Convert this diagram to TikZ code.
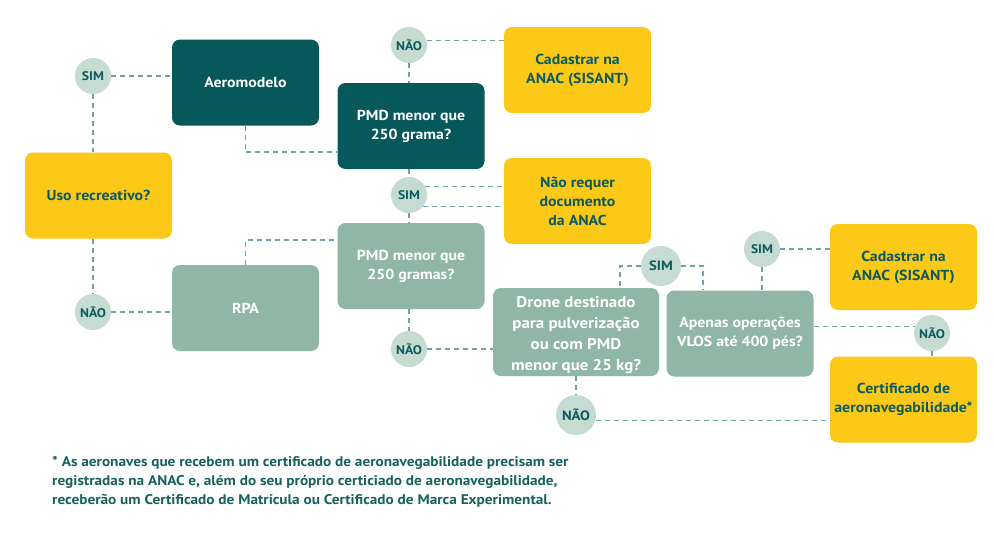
\documentclass[tikz,border=0pt]{standalone}
\usepackage{fontspec}
\setmainfont{PT Sans}[FakeStretch=1.09]
\definecolor{dteal}{HTML}{06585B}
\definecolor{ylw}{HTML}{FCC918}
\definecolor{lgreen}{HTML}{8FB6A6}
\definecolor{circ}{HTML}{C6DBD2}
\definecolor{txt}{HTML}{0B5A5C}
\definecolor{lin}{HTML}{6FA3A6}
\definecolor{foot}{HTML}{17625F}
\begin{document}
\begin{tikzpicture}[x=1pt,y=-1pt,
  box/.style={rounded corners=8pt, minimum width=147pt, minimum height=86pt, align=center, inner sep=0pt, font=\bfseries\fontsize{14.5}{19}\selectfont},
  darkbox/.style={box, fill=dteal, text=white},
  ybox/.style={box, fill=ylw, text=txt},
  gbox/.style={box, fill=lgreen, text=white},
  lbl/.style={circle, fill=circ, text=txt, minimum size=36pt, inner sep=0pt, font=\bfseries\fontsize{12.5}{14}\selectfont},
  conn/.style={draw=lin, line width=1.1pt, dash pattern=on 5pt off 4pt}]
\useasboundingbox[fill=white] (0,0) rectangle (994,541);
% boxes
\node[darkbox] (aero) at (245.5,82.5) {Aeromodelo};
\node[darkbox] (pmd1) at (411,126) {PMD menor que\\250 grama?};
\node[ybox] (uso) at (98.5,195.5) {Uso recreativo?};
\node[gbox] (pmd2) at (411,266) {PMD menor que\\250 gramas?};
\node[gbox] (rpa) at (245.5,308) {RPA};
\node[ybox] (cad1) at (577.5,70) {Cadastrar na\\ANAC (SISANT)};
\node[ybox] (naoreq) at (577.5,201) {Não requer\\documento\\da ANAC};
\node[gbox, minimum width=166pt, minimum height=88pt, font=\bfseries\fontsize{15.5}{21}\selectfont] (drone) at (576,332) {\raisebox{-3pt}[\height][\depth]{\parbox{160pt}{\centering Drone destinado\\para pulverização\\ou com PMD\\menor que 25 kg?}}};
\node[gbox] (apenas) at (740,333.5) {Apenas operações\\VLOS até 400 pés?};
\node[ybox] (cad2) at (903.5,267) {Cadastrar na\\ANAC (SISANT)};
\node[ybox] (cert) at (903.5,399.5) {Certificado de\\aeronavegabilidade*};
% circles
\node[lbl] (sim1) at (93,76) {SIM};
\node[lbl] (nao1) at (93,312) {NÃO};
\node[lbl] (nao2) at (409,45) {NÃO};
\node[lbl] (sim2) at (409,195) {SIM};
\node[lbl] (nao3) at (409,349) {NÃO};
\node[lbl, minimum size=40pt, font=\bfseries\fontsize{13.5}{15}\selectfont] (sim3) at (661,266) {SIM};
\node[lbl] (sim4) at (762,249) {SIM};
\node[lbl, minimum size=40pt, font=\bfseries\fontsize{13.5}{15}\selectfont] (nao4) at (576,415) {NÃO};
\node[lbl] (nao5) at (932,333) {NÃO};
% connectors
\draw[conn] (sim1.east) -- (sim1.east -| aero.west);
\draw[conn] (sim1.south) -- (sim1.south |- uso.north);
\draw[conn] (nao1.north |- uso.south) -- (nao1.north);
\draw[conn] (nao1.east) -- (nao1.east -| rpa.west);
\draw[conn] (aero.south) |- ([yshift=-26pt]pmd1.west);
\draw[conn] (rpa.north) |- ([yshift=26pt]pmd2.west);
\draw[conn] (nao2.south) -- (nao2.south |- pmd1.north);
\draw[conn] (nao2.15) -- (nao2.15 -| cad1.west);
\draw[conn] (sim2.north |- pmd1.south) -- (sim2.north);
\draw[conn] (sim2.27) -- (sim2.27 -| naoreq.west);
\draw[conn] (sim2.-40) -- (sim2.-40 -| naoreq.west);
\draw[conn] (sim2.south) -- (sim2.south |- pmd2.north);
\draw[conn] (nao3.north |- pmd2.south) -- (nao3.north);
\draw[conn] (nao3.east) -- (nao3.east -| drone.west);
\draw[conn] (sim3.west) -| ([xshift=44pt]drone.north);
\draw[conn] (sim3.east) -| ([xshift=-37pt]apenas.north);
\draw[conn] (sim4.south) -- (sim4.south |- apenas.north);
\draw[conn] (sim4.east) -- (sim4.east -| cad2.west);
\draw[conn] (nao4.north |- drone.south) -- (nao4.north);
\draw[conn] (nao4.-15) -- (nao4.-15 -| cert.west);
\draw[conn] (nao5.160 -| apenas.east) -- (nao5.160);
\draw[conn] (nao5.south) -- (nao5.south |- cert.north);
% footnote
\node[anchor=base west, align=left, text=foot, inner sep=0pt, font=\bfseries\fontsize{14}{19}\selectfont] (fn) at (52,504) {* As aeronaves que recebem um certificado de aeronavegabilidade precisam ser\\registradas na ANAC e, além do seu próprio certiciado de aeronavegabilidade,\\receberão um Certificado de Matrícula ou Certificado de Marca Experimental.};
\end{tikzpicture}
\end{document}
